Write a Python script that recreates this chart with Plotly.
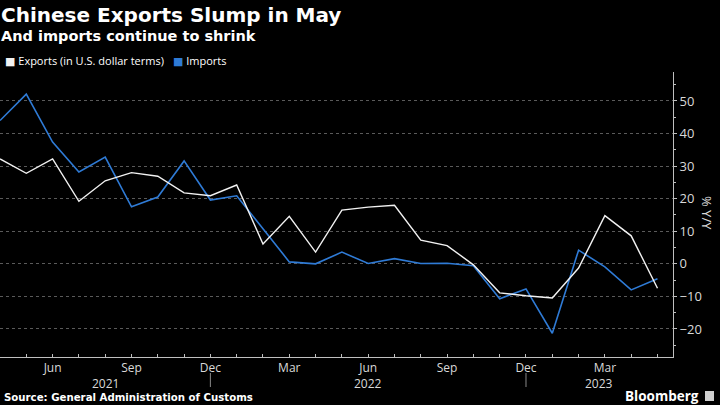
import plotly.graph_objects as go

months = ["Apr 2021", "May 2021", "Jun 2021", "Jul 2021", "Aug 2021", "Sep 2021", "Oct 2021",
          "Nov 2021", "Dec 2021", "Jan 2022", "Feb 2022", "Mar 2022", "Apr 2022", "May 2022",
          "Jun 2022", "Jul 2022", "Aug 2022", "Sep 2022", "Oct 2022", "Nov 2022", "Dec 2022",
          "Jan 2023", "Feb 2023", "Mar 2023", "Apr 2023", "May 2023"]
exports = [32.2, 27.8, 32.2, 19.2, 25.5, 28.0, 26.9, 21.8, 20.9, 24.2, 6.1, 14.6, 3.6, 16.5,
           17.4, 18.0, 7.3, 5.6, -0.3, -8.9, -9.8, -10.5, -1.3, 14.8, 8.6, -7.5]
imports = [44.0, 52.1, 37.4, 28.2, 32.8, 17.5, 20.5, 31.6, 19.6, 20.9, 10.8, 0.6, 0.0, 3.6,
           0.1, 1.6, 0.1, 0.2, -0.6, -10.7, -7.7, -21.3, 4.2, -0.9, -8.0, -4.6]

series_names = ["Exports (in U.S. dollar terms)", "Imports"]
series_colors = ["#f2f2f2", "#2f7bd6"]

month_labels = ["Jun", "Sep", "Dec", "Mar"]
year_labels = ["2021", "2022", "2023"]
y_ticks = [-20, -10, 0, 10, 20, 30, 40, 50]

x = list(range(len(months)))
ticktext = [m.split()[0] if m.split()[0] in month_labels else "" for m in months]

fig = go.Figure()
fig.add_trace(go.Scatter(x=x, y=imports, mode="lines", name=series_names[1],
                         line=dict(color=series_colors[1], width=1.6), showlegend=False))
fig.add_trace(go.Scatter(x=x, y=exports, mode="lines", name=series_names[0],
                         line=dict(color=series_colors[0], width=1.4), showlegend=False))

font_main = "Open Sans, DejaVu Sans, sans-serif"
font_bold = "DejaVu Sans, sans-serif"
PT, PB, PH = 72, 357, 285  # plot top / bottom pixel, plot height


def py(pix):
    return (PB - pix) / PH


annotations = [
    dict(text="<b>Chinese Exports Slump in May</b>", x=0, y=py(15), xref="paper", yref="paper",
         xanchor="left", yanchor="middle", xshift=-1, showarrow=False,
         font=dict(size=20, color="white", family=font_bold)),
    dict(text="<b>And imports continue to shrink</b>", x=0, y=py(36), xref="paper",
         yref="paper", xanchor="left", yanchor="middle", xshift=-1, showarrow=False,
         font=dict(size=14.5, color="white", family=font_bold)),
]

# legend as annotations
leg_x = [3, 171]
for nm, col, lx in zip(series_names, series_colors, leg_x):
    annotations.append(dict(text="<span style='color:%s'>■</span> %s" % (col, nm),
                            x=lx / 673, y=py(60), xref="paper", yref="paper",
                            xanchor="left", yanchor="middle", showarrow=False,
                            font=dict(size=11, color="white", family=font_main)))

# year labels
dec_idx = [i for i, m in enumerate(months) if m.startswith("Dec")]
bounds = [0] + dec_idx + [25.59]
for yl, a, b in zip(year_labels, bounds[:-1], bounds[1:]):
    annotations.append(dict(text=yl, x=(a + b) / 2, y=py(383), xref="x", yref="paper",
                            xanchor="center", yanchor="middle", showarrow=False,
                            font=dict(size=12, color="#d9d9d9", family=font_main)))

annotations += [
    dict(text="<b>Source: General Administration of Customs</b>", x=0, y=py(397),
         xref="paper", yref="paper", xanchor="left", yanchor="middle", xshift=2, showarrow=False,
         font=dict(size=10.2, color="white", family=font_bold)),
    dict(text="<b>Bloomberg</b>", x=701 / 673, y=py(396), xref="paper", yref="paper",
         xanchor="right", yanchor="middle", showarrow=False,
         font=dict(size=13.5, color="white", family=font_main)),
    dict(text="% Y/Y", x=707 / 673, y=py(213), xref="paper", yref="paper",
         xanchor="center", yanchor="middle", textangle=90, showarrow=False,
         font=dict(size=13, color="#d9d9d9", family=font_main)),
]

shapes = []
for d in dec_idx:
    shapes.append(dict(type="line", xref="x", yref="paper", x0=d, x1=d,
                       y0=py(373), y1=py(387), line=dict(color="#888888", width=1)))
shapes.append(dict(type="rect", xref="paper", yref="paper",
                   x0=705 / 673, x1=714 / 673, y0=py(401), y1=py(391),
                   line=dict(width=0), fillcolor="#cfcfcf"))

fig.update_layout(
    width=720, height=405,
    margin=dict(l=0, r=47, t=72, b=48),
    paper_bgcolor="black", plot_bgcolor="black",
    showlegend=False,
    annotations=annotations,
    shapes=shapes,
    font=dict(family=font_main, color="#d9d9d9"),
    xaxis=dict(range=[0, 25.59], tickvals=x, ticktext=ticktext, showgrid=False, zeroline=False,
               showline=True, linecolor="#bfbfbf", linewidth=1, ticks="inside", ticklen=3,
               tickcolor="#bfbfbf", tickfont=dict(size=12, color="#d9d9d9"), fixedrange=True),
    yaxis=dict(side="right", range=[-28.6, 58.9], tickvals=y_ticks, showgrid=True,
               gridcolor="#5a5a5a", griddash="dot", gridwidth=1, zeroline=False,
               showline=True, linecolor="#bfbfbf", linewidth=1, ticks="outside", ticklen=3,
               tickcolor="#bfbfbf", tickfont=dict(size=13, color="#d9d9d9"),
               minor=dict(dtick=5, ticks="outside", ticklen=2, tickcolor="#bfbfbf", showgrid=False),
               fixedrange=True),
)

fig.write_html("out.html", config={"displayModeBar": False},
               post_script="document.body.style.margin='0';document.body.style.background='black';")
